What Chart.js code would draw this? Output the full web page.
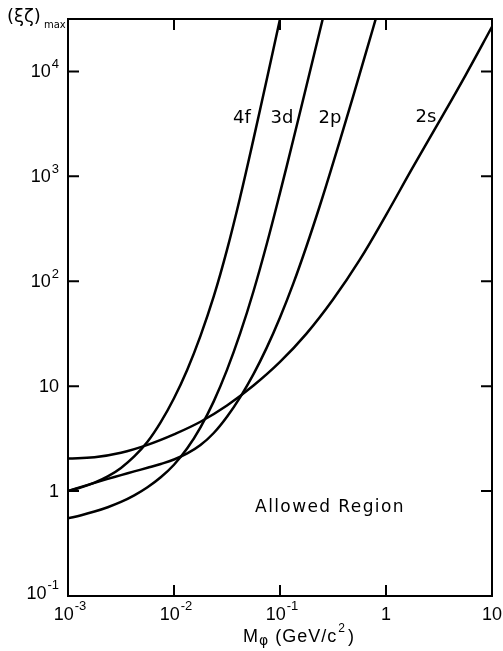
<!DOCTYPE html>
<html>
<head>
<meta charset="UTF-8">
<title>(ξζ)max vs Mφ</title>
<style>
  html, body { margin:0; padding:0; background:#fff; }
  #wrap { width:503px; height:651px; position:relative; }
</style>
</head>
<body>
<div id="wrap"><canvas id="chart" width="503" height="651"></canvas></div>
<script src="https://cdn.jsdelivr.net/npm/chart.js"></script>
<script>
// axis ticks
const xTicks = [0.001, 0.01, 0.1, 1, 10];
const xTickLabels = [['10','-3'], ['10','-2'], ['10','-1'], ['1',''], ['10','']];
const yTicks = [0.1, 1, 10, 100, 1000, 10000];
const yTickLabels = [['10','-1'], ['1',''], ['10',''], ['10','2'], ['10','3'], ['10','4']];

// curves (mass in GeV/c^2, (xi zeta)max)
const mass4f = [0.001, 0.001334, 0.001778, 0.002371, 0.003162, 0.004217, 0.005623, 0.007499, 0.01, 0.01334, 0.01778, 0.02371, 0.03162, 0.04217, 0.05623, 0.07499, 0.1];
const val4f  = [1.000, 1.084, 1.202, 1.380, 1.664, 2.138, 2.951, 4.545, 7.674, 14.37, 30.20, 71.61, 199.1, 638.3, 2265, 8395, 31550];

const mass3d = [0.001, 0.001334, 0.001778, 0.002371, 0.003162, 0.004217, 0.005623, 0.007499, 0.01, 0.01334, 0.01778, 0.02371, 0.03162, 0.04217, 0.05623, 0.07499, 0.1, 0.1334, 0.1778, 0.2371, 0.3162];
const val3d  = [0.5495, 0.5888, 0.6383, 0.7019, 0.7875, 0.9094, 1.087, 1.353, 1.783, 2.556, 4.050, 7.161, 14.29, 31.99, 80.35, 226.5, 695.8, 2233, 7308, 24127, 80131];

const mass2p = [0.001, 0.001334, 0.001778, 0.002371, 0.003162, 0.004217, 0.005623, 0.007499, 0.01, 0.01334, 0.01778, 0.02371, 0.03162, 0.04217, 0.05623, 0.07499, 0.1, 0.1334, 0.1778, 0.2371, 0.3162, 0.4217, 0.5623, 0.7499, 1];
const val2p  = [1.000, 1.096, 1.199, 1.307, 1.421, 1.540, 1.669, 1.815, 2.001, 2.284, 2.746, 3.579, 5.114, 7.875, 13.03, 23.31, 45.19, 94.95, 215.7, 521.8, 1330, 3487, 9333, 25264, 69183];

const mass2s = [0.001, 0.001778, 0.003162, 0.005623, 0.01, 0.01778, 0.03162, 0.05623, 0.1, 0.1778, 0.3162, 0.5623, 1, 1.778, 3.162, 5.623, 10];
const val2s  = [2.046, 2.106, 2.323, 2.761, 3.475, 4.581, 6.546, 10.14, 17.02, 31.70, 66.99, 158.9, 427.6, 1205, 3300, 9194, 26669];

// curve labels, placed in data coords
const curveNames = ['4f', '3d', '2p', '2s'];
const nameX = [0.0438, 0.1045, 0.296, 2.38];
const nameY = [3560, 3560, 3560, 3650];

const regionText = 'Allowed Region';
const regionX = 0.29, regionY = 0.70;

const FONT = '"DejaVu Sans", sans-serif';
const TFONT = '"Liberation Sans", Arial, sans-serif';

function pts(xs, ys){ return xs.map((x,i)=>({x:x, y:ys[i]})); }

function curve(xs, ys){
  return {
    data: pts(xs, ys),
    showLine: true,
    borderColor: '#000',
    borderWidth: 2.5,
    pointRadius: 0,
    tension: 0.4,
    fill: false
  };
}

// text with a superscript part
function drawSup(ctx, base, exp, x, y, align, size){
  ctx.font = size + 'px ' + TFONT;
  const wb = ctx.measureText(base).width;
  ctx.font = Math.round(size*0.72) + 'px ' + TFONT;
  const we = exp ? ctx.measureText(exp).width + 1 : 0;
  let x0 = x;
  if(align === 'right') x0 = x - wb - we;
  else if(align === 'center') x0 = x - (wb + we)/2;
  ctx.textAlign = 'left';
  ctx.textBaseline = 'middle';
  ctx.font = size + 'px ' + TFONT;
  ctx.fillText(base, x0, y);
  if(exp){
    ctx.font = Math.round(size*0.72) + 'px ' + TFONT;
    ctx.fillText(exp, x0 + wb + 1, y - size*0.45);
  }
}

const decor = {
  id: 'decor',
  afterDraw(chart){
    const ctx = chart.ctx;
    const a = chart.chartArea;
    const xs = chart.scales.x, ys = chart.scales.y;
    ctx.save();
    ctx.strokeStyle = '#000';
    ctx.fillStyle = '#000';
    ctx.lineWidth = 2;
    ctx.strokeRect(a.left, a.top, a.right - a.left, a.bottom - a.top);

    // inward ticks on all four sides
    const tl = 11;
    ctx.beginPath();
    xTicks.forEach(v => {
      const px = xs.getPixelForValue(v);
      ctx.moveTo(px, a.bottom); ctx.lineTo(px, a.bottom - tl);
      ctx.moveTo(px, a.top); ctx.lineTo(px, a.top + tl);
    });
    yTicks.forEach(v => {
      const py = ys.getPixelForValue(v);
      ctx.moveTo(a.left, py); ctx.lineTo(a.left + tl, py);
      ctx.moveTo(a.right, py); ctx.lineTo(a.right - tl, py);
    });
    ctx.stroke();

    // tick labels
    xTicks.forEach((v,i) => {
      drawSup(ctx, xTickLabels[i][0], xTickLabels[i][1], xs.getPixelForValue(v) + (xTickLabels[i][1] ? 2 : 0), a.bottom + 19, 'center', 18);
    });
    yTicks.forEach((v,i) => {
      let py = ys.getPixelForValue(v);
      if(i === 0) py -= 3;
      drawSup(ctx, yTickLabels[i][0], yTickLabels[i][1], a.left - 9, py + 1, 'right', 18);
    });

    // axis titles
    ctx.textBaseline = 'middle';
    ctx.textAlign = 'left';
    ctx.font = '18px ' + FONT;
    ctx.fillText('(ξζ)', 7, 17);
    ctx.font = '10px ' + FONT;
    ctx.fillText('max', 44, 25);

    let x0 = 243, yb = 637;
    ctx.letterSpacing = '1px';
    ctx.font = '18px ' + TFONT;
    ctx.fillText('M', x0, yb);
    x0 += ctx.measureText('M').width;
    ctx.font = '14px ' + FONT;
    ctx.fillText('φ', x0, yb + 4);
    x0 += ctx.measureText('φ').width + 6;
    ctx.font = '18px ' + TFONT;
    ctx.fillText('(GeV/c', x0, yb);
    x0 += ctx.measureText('(GeV/c').width;
    ctx.font = '12px ' + TFONT;
    ctx.fillText('2', x0 + 1, yb - 8);
    x0 += ctx.measureText('2').width + 3;
    ctx.font = '18px ' + TFONT;
    ctx.fillText(')', x0, yb);
    ctx.letterSpacing = '0px';

    // curve labels
    ctx.textAlign = 'center';
    ctx.font = '18px ' + FONT;
    curveNames.forEach((n,i) => {
      ctx.fillText(n, xs.getPixelForValue(nameX[i]), ys.getPixelForValue(nameY[i]));
    });
    ctx.font = '17px ' + FONT;
    ctx.letterSpacing = '1.4px';
    ctx.fillText(regionText, xs.getPixelForValue(regionX) + 1, ys.getPixelForValue(regionY));
    ctx.restore();
  }
};

new Chart(document.getElementById('chart'), {
  type: 'scatter',
  data: {
    datasets: [curve(mass4f, val4f), curve(mass3d, val3d), curve(mass2p, val2p), curve(mass2s, val2s)]
  },
  options: {
    responsive: false,
    animation: false,
    layout: { padding: { left: 68, right: 11, top: 19, bottom: 55 } },
    plugins: { legend: { display: false }, tooltip: { enabled: false } },
    scales: {
      x: {
        type: 'logarithmic', min: 0.001, max: 10,
        grid: { display: false, drawTicks: false },
        border: { display: false },
        ticks: { display: false }
      },
      y: {
        type: 'logarithmic', min: 0.1, max: 31623,
        grid: { display: false, drawTicks: false },
        border: { display: false },
        ticks: { display: false }
      }
    }
  },
  plugins: [decor]
});
</script>
</body>
</html>
